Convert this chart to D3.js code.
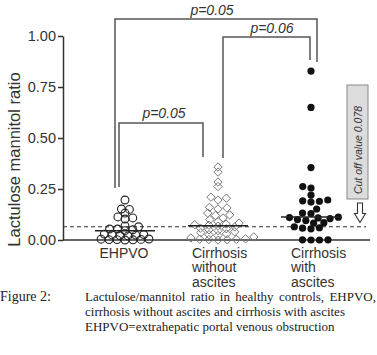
<!DOCTYPE html>
<html><head><meta charset="utf-8">
<script src="https://cdn.jsdelivr.net/npm/d3@7"></script>
<style>
html,body{margin:0;padding:0;background:#fff;}
svg{display:block;}
</style></head>
<body>
<svg id="chart" width="377" height="355"></svg>
<script>
// ---- data ----
const categories = ["EHPVO", "Cirrhosis without ascites", "Cirrhosis with ascites"];
const categoryLines = [["EHPVO"], ["Cirrhosis", "without", "ascites"], ["Cirrhosis", "with", "ascites"]];
const ehpvoValues = [0.196, 0.152, 0.150, 0.132, 0.113, 0.108, 0.103, 0.069, 0.065,
  0.054, 0.054, 0.050, 0.046,
  0.029, 0.027, 0.025, 0.024, 0.022, 0.020,
  0.005, 0.004, 0.003, 0.002, 0.002, 0.001, 0.000];
const noAscitesValues = [0.358, 0.333, 0.284, 0.262, 0.210, 0.205, 0.196, 0.160, 0.157, 0.152, 0.132, 0.123,
  0.120, 0.108, 0.100, 0.090, 0.083,
  0.078, 0.075, 0.072, 0.068, 0.064,
  0.058, 0.055, 0.050, 0.046,
  0.040, 0.036, 0.030, 0.026, 0.022,
  0.015, 0.010, 0.006,
  0.004, 0.003, 0.002, 0.001, 0.000];
const ascitesValues = [0.828, 0.650, 0.355, 0.262, 0.255, 0.220, 0.196, 0.192, 0.190, 0.186,
  0.152, 0.132, 0.130,
  0.112, 0.110, 0.108, 0.105, 0.100, 0.095, 0.085, 0.083,
  0.065, 0.060, 0.058, 0.055,
  0.001, 0.001, 0.000, 0.000];
const medianValues = [0.045, 0.070, 0.113];
const cutoffValue = 0.065;
const cutoffLabel = "Cut off value 0.078";
const yTickValues = [0, 0.25, 0.5, 0.75, 1.0];
const yTitle = "Lactulose mannitol ratio";
const comparisons = [
  {from: 0, to: 2, p: "p=0.05"},
  {from: 1, to: 2, p: "p=0.06"},
  {from: 0, to: 1, p: "p=0.05"}
];
const captionLabel = "Figure 2:";
const captionLines = [
  "Lactulose/mannitol ratio in healthy controls, EHPVO,",
  "cirrhosis without ascites and cirrhosis with ascites",
  "EHPVO=extrahepatic portal venous obstruction"
];

// ---- layout ----
const svg = d3.select("#chart");
const sans = "Arial, 'Liberation Sans', sans-serif";
const serif = "'Times New Roman', 'Liberation Serif', serif";
const y = d3.scaleLinear().domain([0, 1]).range([240, 36]);
const x = d3.scalePoint().domain(categories).range([125, 311]);
const xLeft = 63, xRight = 370;

// beeswarm offsets (elliptical collision: horizontal spacing d, vertical spacing h)
function swarm(values, d, h) {
  const k = d / h;
  const order = values.map((v, i) => i).sort((a, b) => values[a] - values[b]);
  const placed = [];
  const offs = new Array(values.length);
  let flip = 1;
  order.forEach(i => {
    const py = y(values[i]) * k;
    const cands = [0];
    placed.forEach(p => {
      const dy = p.y - py;
      if (Math.abs(dy) < d) {
        const dx = Math.sqrt(d * d - dy * dy);
        cands.push(p.x + dx, p.x - dx);
      }
    });
    const ok = cands.filter(c => placed.every(p => (p.x - c) ** 2 + (p.y - py) ** 2 >= d * d - 1e-6));
    ok.sort((a, b) => {
      const dd = Math.abs(a) - Math.abs(b);
      if (Math.abs(dd) > 1e-6) return dd;
      return flip * (b - a);
    });
    const c = ok[0];
    if (Math.abs(c) > 1e-6) flip = -flip;
    placed.push({x: c, y: py});
    offs[i] = c;
  });
  return offs;
}

// axes
const yAxis = d3.axisLeft(y).tickValues(yTickValues).tickFormat(d3.format(".2f")).tickSize(5).tickSizeOuter(0);
const gy = svg.append("g").attr("transform", `translate(${xLeft},0)`).call(yAxis);
gy.select(".domain").attr("stroke", "#333").attr("stroke-width", 1.5);
gy.selectAll(".tick line").attr("stroke", "#333").attr("stroke-width", 1.5);
gy.selectAll(".tick text").attr("font-family", sans).attr("font-size", 14.5).attr("fill", "#333").attr("x", -7);

svg.append("line").attr("x1", xLeft).attr("x2", xRight).attr("y1", y(0)).attr("y2", y(0))
  .attr("stroke", "#333").attr("stroke-width", 1.5);

svg.append("text").attr("transform", `translate(20,${(y(0.5)+y(0.25))/2 - 4}) rotate(-90)`)
  .attr("text-anchor", "middle").attr("font-family", sans).attr("font-size", 16.5).attr("fill", "#333")
  .text(yTitle);

// cutoff dashed line
svg.append("line").attr("x1", xLeft).attr("x2", 366).attr("y1", y(cutoffValue)).attr("y2", y(cutoffValue))
  .attr("stroke", "#333").attr("stroke-width", 1.2).attr("stroke-dasharray", "4,3");

// points
const ehOff = swarm(ehpvoValues, 8, 4.4);
svg.append("g").selectAll("circle").data(ehpvoValues).join("circle")
  .attr("cx", (d, i) => x(categories[0]) + ehOff[i]).attr("cy", d => y(d)).attr("r", 3.9)
  .attr("fill", "none").attr("stroke", "#222").attr("stroke-width", 1.1);

const naOff = swarm(noAscitesValues, 9.2, 4.4);
svg.append("g").selectAll("path").data(noAscitesValues).join("path")
  .attr("transform", (d, i) => `translate(${x(categories[1]) + naOff[i]},${y(d)})`)
  .attr("d", d3.symbol(d3.symbolDiamond2, 45))
  .attr("fill", "none").attr("stroke", "#777").attr("stroke-width", 1);

const asOff = swarm(ascitesValues, 8.5, 6);
svg.append("g").selectAll("circle").data(ascitesValues).join("circle")
  .attr("cx", (d, i) => x(categories[2]) + asOff[i]).attr("cy", d => y(d)).attr("r", 3.6)
  .attr("fill", "#111");

// medians
svg.append("g").selectAll("line").data(medianValues).join("line")
  .attr("x1", (d, i) => x(categories[i]) - 30).attr("x2", (d, i) => x(categories[i]) + 30)
  .attr("y1", d => y(d)).attr("y2", d => y(d))
  .attr("stroke", "#222").attr("stroke-width", 1.4);

// category labels
const labX = [x(categories[0]) - 1, x(categories[1]) - 26, x(categories[2]) - 20];
const labAnchor = ["middle", "start", "start"];
categoryLines.forEach((lines, i) => {
  const t = svg.append("text").attr("font-family", sans).attr("font-size", 14).attr("fill", "#333")
    .attr("text-anchor", labAnchor[i]);
  lines.forEach((l, k) => t.append("tspan").attr("x", labX[i]).attr("y", 257.5 + k * 14.6).text(l));
});

// comparison brackets
const brackets = [
  {x1: x(categories[0]) - 10, x2: x(categories[2]) + 6, top: 1.083, l: 0.255, r: 0.873, tx: 212, ty: 15},
  {x1: x(categories[1]) + 5, x2: x(categories[2]) - 1, top: 0.995, l: 0.402, r: 0.882, tx: 272, ty: 33},
  {x1: x(categories[0]) - 6, x2: x(categories[1]) - 15, top: 0.574, l: 0.26, r: 0.407, tx: 164, ty: 118}
];
brackets.forEach((b, i) => {
  svg.append("path")
    .attr("d", `M${b.x1},${y(b.l)}V${y(b.top)}H${b.x2}V${y(b.r)}`)
    .attr("fill", "none").attr("stroke", "#555").attr("stroke-width", 1.5);
  svg.append("text").attr("x", b.tx).attr("y", b.ty).attr("text-anchor", "middle")
    .attr("font-family", sans).attr("font-style", "italic").attr("font-size", 14).attr("fill", "#333")
    .text(comparisons[i].p);
});

// cutoff box + arrow
svg.append("rect").attr("x", 347).attr("y", 85).attr("width", 21).attr("height", 114)
  .attr("fill", "#dcdcdc").attr("stroke", "#888").attr("stroke-width", 1);
svg.append("text").attr("transform", "translate(361.5,150) rotate(-90)").attr("text-anchor", "middle")
  .attr("font-family", sans).attr("font-style", "italic").attr("font-size", 10.5).attr("fill", "#333")
  .text(cutoffLabel);
svg.append("path")
  .attr("d", "M357.5,203H362.5V213.5H365.5L360,222.5L354.5,213.5H357.5Z")
  .attr("fill", "#fff").attr("stroke", "#333").attr("stroke-width", 1.1);

// caption
svg.append("text").attr("x", 0).attr("y", 301).attr("font-family", serif)
  .attr("font-size", 14).attr("fill", "#222")
  .text(captionLabel);
captionLines.forEach((ln, k) => {
  const t = svg.append("text").attr("x", 85).attr("y", 301 + k * 15).attr("font-family", serif)
    .attr("font-size", 13).attr("fill", "#222").text(ln);
  if (k === 0) {
    const len = t.node().getComputedTextLength();
    const spaces = (ln.match(/ /g) || []).length;
    t.attr("word-spacing", (291 - len) / spaces);
  }
});
</script>
</body></html>
